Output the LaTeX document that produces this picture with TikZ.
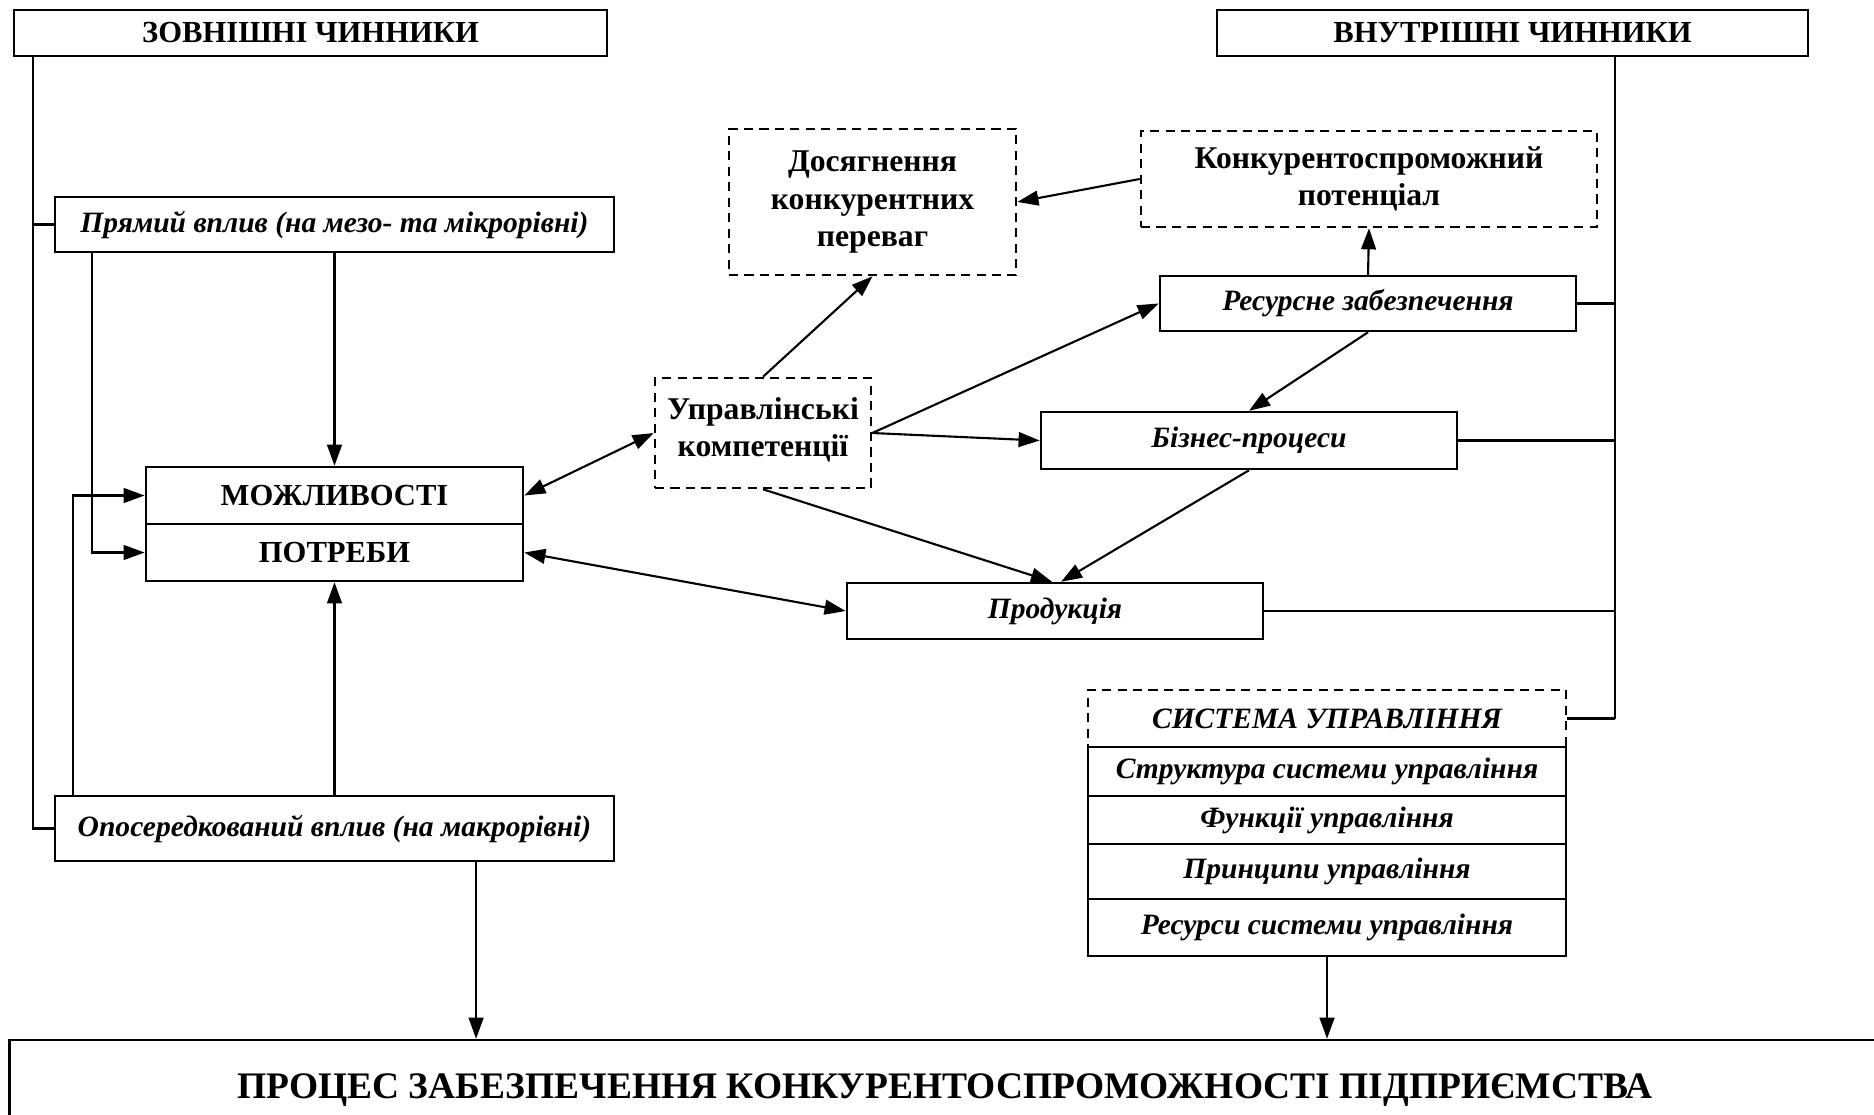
\documentclass[tikz,border=0pt]{standalone}
\usepackage{fontspec}
\setmainfont{Liberation Serif}
\usetikzlibrary{arrows.meta}

\begin{document}
\begin{tikzpicture}[x=0.01cm, y=-0.01cm,
  blk/.style={draw, line width=0.7pt, inner sep=0pt, align=center, font=\bfseries\fontsize{9}{10.7}\selectfont},
  hblk/.style={blk, font=\bfseries\fontsize{8.7}{10.5}\selectfont},
  iblk/.style={blk, font=\bfseries\itshape\fontsize{8.4}{10.3}\selectfont},
  dblk/.style={blk, dash pattern=on 2.6pt off 1.8pt},
  ln/.style={line width=0.6pt},
  arr/.style={ln, -{Triangle[length=6pt,width=4.2pt]}},
  darr/.style={ln, {Triangle[length=6pt,width=4.2pt]}-{Triangle[length=6pt,width=4.2pt]}}]
\useasboundingbox (0,0) rectangle (1874,1114);
\node[hblk, minimum width=5.93cm, minimum height=0.46cm] (zovn) at (310.5,33) {ЗОВНІШНІ ЧИННИКИ};
\node[hblk, minimum width=5.91cm, minimum height=0.46cm] (vnutr) at (1512.5,33) {ВНУТРІШНІ ЧИННИКИ};
\node[iblk, minimum width=5.59cm, minimum height=0.55cm] (pryam) at (334.5,224.5) {Прямий вплив (на мезо- та мікрорівні)};
\node[hblk, minimum width=3.77cm, minimum height=0.57cm] (mozh) at (334.5,495.5) {МОЖЛИВОСТІ};
\node[hblk, minimum width=3.77cm, minimum height=0.57cm] (potr) at (334.5,552.5) {ПОТРЕБИ};
\node[iblk, minimum width=5.59cm, minimum height=0.65cm] (opos) at (334.5,828.5) {Опосередкований вплив (на макрорівні)};
\node[dblk, minimum width=2.16cm, minimum height=1.1cm, text depth=0.12cm] (upr) at (763,433) {Управлінські\\компетенції};
\node[dblk, minimum width=2.87cm, minimum height=1.46cm] (dosyag) at (872.5,202) {Досягнення\\конкурентних\\переваг};
\node[dblk, minimum width=4.56cm, minimum height=0.96cm] (potents) at (1369,179) {Конкурентоспроможний\\потенціал};
\node[iblk, minimum width=4.16cm, minimum height=0.55cm] (resurs) at (1368,303.5) {Ресурсне забезпечення};
\node[iblk, minimum width=4.16cm, minimum height=0.57cm] (biznes) at (1249,440.5) {Бізнес-процеси};
\node[iblk, minimum width=4.16cm, minimum height=0.56cm] (prod) at (1055,611) {Продукція};
\node[iblk, dash pattern=on 2.6pt off 1.8pt, minimum width=4.78cm, minimum height=0.57cm] (sys) at (1327,718.5) {СИСТЕМА УПРАВЛІННЯ};
\node[iblk, minimum width=4.78cm, minimum height=0.49cm] (strukt) at (1327,771.5) {Структура системи управління};
\node[iblk, minimum width=4.78cm, minimum height=0.48cm] (funk) at (1327,820) {Функції управління};
\node[iblk, minimum width=4.78cm, minimum height=0.55cm] (pryntsyp) at (1327,871.5) {Принципи управління};
\node[iblk, minimum width=4.78cm, minimum height=0.57cm] (ressys) at (1327,927.5) {Ресурси системи управління};
\node[blk, font=\bfseries\fontsize{10.65}{12}\selectfont, minimum width=18.7cm, minimum height=1cm] (protses) at (945,1090) {ПРОЦЕС ЗАБЕЗПЕЧЕННЯ КОНКУРЕНТОСПРОМОЖНОСТІ ПІДПРИЄМСТВА};
\coordinate (lbus) at (33,56);
\coordinate (rbus) at (1615,56);
\draw[ln] (zovn.south -| lbus) |- (opos.west);
\draw[ln] (lbus |- pryam.west) -- (pryam.west);
\draw[arr] (pryam.south) -- (mozh.north);
\draw[arr] ([xshift=0.38cm]pryam.south west) |- (potr.west);
\draw[arr] ([xshift=0.19cm]opos.north west) |- (mozh.west);
\draw[arr] (opos.north) -- (potr.south);
\draw[arr] ([xshift=1.415cm]opos.south) coordinate (o1) -- (o1 |- protses.north);
\draw[darr] (mozh.east) -- (upr.west);
\draw[darr] (potr.east) -- (prod.west);
\draw[arr] (upr.north) -- (dosyag.south);
\draw[arr] (potents.west) -- (dosyag.east);
\draw[arr] (resurs.north) -- (potents.south);
\draw[arr] (upr.east) -- (resurs.west);
\draw[arr] (upr.east) -- (biznes.west);
\draw[arr] (upr.south) -- ([xshift=-0.03cm]prod.north);
\draw[arr] (resurs.south) -- (biznes.north);
\draw[arr] (biznes.south) -- ([xshift=0.06cm]prod.north);
\draw[ln] (vnutr.south -| rbus) -- (rbus |- sys.east);
\draw[ln] (resurs.east) -- (resurs.east -| rbus);
\draw[ln] (biznes.east) -- (biznes.east -| rbus);
\draw[ln] (prod.east) -- (prod.east -| rbus);
\draw[ln] (sys.east) -- (sys.east -| rbus);
\draw[arr] (ressys.south) -- (ressys.south |- protses.north);
\end{tikzpicture}
\end{document}
